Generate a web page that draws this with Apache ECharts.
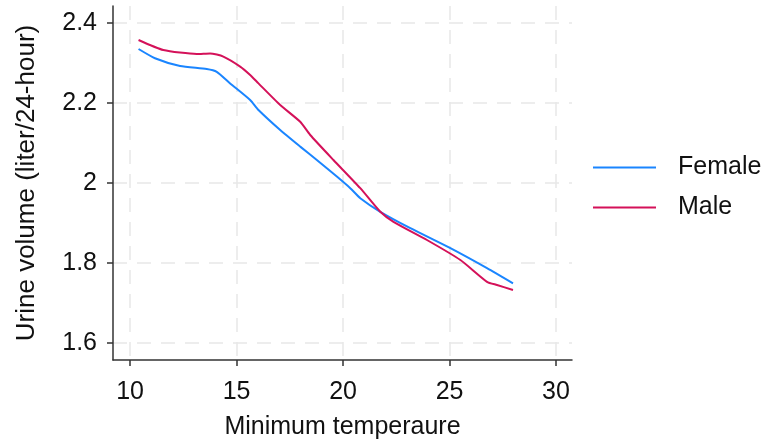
<!DOCTYPE html>
<html>
<head>
<meta charset="utf-8">
<script src="https://cdn.jsdelivr.net/npm/echarts@6/dist/echarts.min.js"></script>
<style>
html,body{margin:0;padding:0;background:#fff;}
#chart{width:773px;height:446px;}
</style>
</head>
<body>
<div id="chart"></div>
<script>
var xTicks = [10, 15, 20, 25, 30];
var yTicks = [1.6, 1.8, 2.0, 2.2, 2.4];
var seriesNames = ['Female', 'Male'];

var femaleTemp   = [10.4, 11.17, 12.35, 13.6, 14.07, 14.7, 15.64, 16.03, 17.05, 17.99, 18.77, 19.71, 20.34, 20.81, 21.75, 23.16, 25.04, 26.76, 27.98];
var femaleVolume = [2.335, 2.312, 2.2925, 2.285, 2.278, 2.249, 2.2075, 2.1825, 2.1325, 2.091, 2.0575, 2.016, 1.987, 1.962, 1.928, 1.887, 1.837, 1.787, 1.749];

var maleTemp   = [10.4, 11.56, 13.13, 13.76, 14.38, 15.17, 15.64, 16.03, 17.05, 17.99, 18.46, 19.55, 20.81, 21.75, 22.37, 23.94, 25.51, 26.76, 27.23, 27.98];
var maleVolume = [2.3575, 2.3325, 2.3225, 2.324, 2.316, 2.291, 2.27, 2.249, 2.195, 2.153, 2.12, 2.0575, 1.987, 1.928, 1.903, 1.8575, 1.8075, 1.753, 1.745, 1.7325];

function zip(a, b) { return a.map(function (v, i) { return [v, b[i]]; }); }

var font = 'Liberation Sans, Arial, sans-serif';
var chart = echarts.init(document.getElementById('chart'), null, {renderer: 'canvas'});
var splitStyle = {show: true, lineStyle: {color: '#e8e8e8', width: 1.5, type: [14, 10]}};

chart.setOption({
  animation: false,
  backgroundColor: '#fff',
  grid: {left: 113, right: 201, top: 6, bottom: 86, containLabel: false},
  legend: {
    orient: 'vertical',
    left: 588, top: 150,
    icon: 'rect',
    itemWidth: 63, itemHeight: 2, itemGap: 15,
    textStyle: {fontFamily: font, fontSize: 25, lineHeight: 25, color: '#111', padding: [0, 0, 0, 17]},
    data: seriesNames
  },
  xAxis: {
    type: 'value', min: 9.2, max: 30.75,
    name: 'Minimum temperaure', nameLocation: 'middle', nameGap: 55,
    nameTextStyle: {fontFamily: font, fontSize: 25, color: '#111'},
    axisLine: {show: true, onZero: false, lineStyle: {color: '#333', width: 1.5}},
    axisTick: {show: true, length: 6, customValues: xTicks, lineStyle: {color: '#333', width: 1.5}},
    axisLabel: {customValues: xTicks, fontFamily: font, fontSize: 25, color: '#111', margin: 20},
    splitLine: splitStyle
  },
  yAxis: {
    type: 'value', min: 1.5575, max: 2.4425,
    name: 'Urine volume (liter/24-hour)', nameLocation: 'middle', nameGap: 73,
    nameTextStyle: {fontFamily: font, fontSize: 26, color: '#111'},
    axisLine: {show: true, onZero: false, lineStyle: {color: '#333', width: 1.5}},
    axisTick: {show: true, length: 6, customValues: yTicks, lineStyle: {color: '#333', width: 1.5}},
    axisLabel: {customValues: yTicks, fontFamily: font, fontSize: 25, color: '#111', margin: 16,
      formatter: function (v) { return String(+v.toFixed(1)); }},
    splitLine: splitStyle
  },
  series: [
    {name: 'Female', type: 'line', data: zip(femaleTemp, femaleVolume), symbol: 'none', smooth: 0.2,
     lineStyle: {color: '#1a85ff', width: 2}, itemStyle: {color: '#1a85ff'}},
    {name: 'Male', type: 'line', data: zip(maleTemp, maleVolume), symbol: 'none', smooth: 0.2,
     lineStyle: {color: '#d41159', width: 2}, itemStyle: {color: '#d41159'}}
  ]
});
</script>
</body>
</html>
